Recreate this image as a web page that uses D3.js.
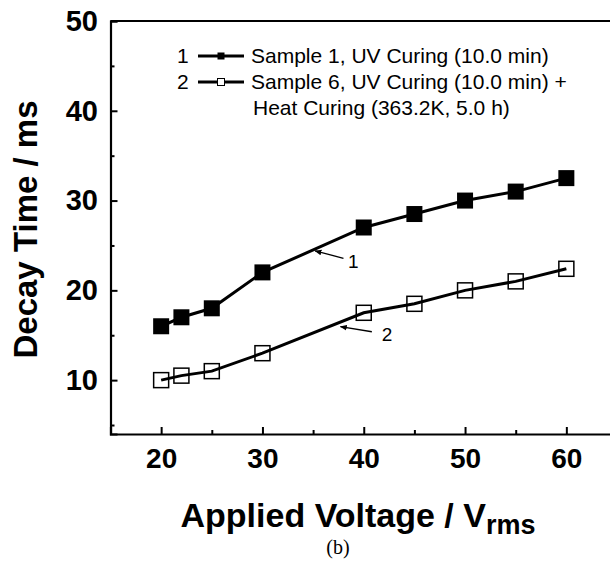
<!DOCTYPE html>
<html>
<head>
<meta charset="utf-8">
<script src="https://cdn.jsdelivr.net/npm/d3@7"></script>
<style>
  html, body { margin: 0; padding: 0; background: #fff; }
  svg { display: block; }
</style>
</head>
<body>
<svg id="chart" width="610" height="561"></svg>
<script>
// ---- Data ----
const voltages = [20, 22, 25, 30, 40, 45, 50, 55, 60];
const sample1 = [16, 17, 18, 22, 27, 28.5, 30, 31, 32.5];
const sample6 = [10, 10.5, 11, 13, 17.5, 18.5, 20, 21, 22.4];
const yTicks = [10, 20, 30, 40, 50];
const yMinorTicks = [5, 15, 25, 35, 45];
const xTicks = [20, 30, 40, 50, 60];
const xMinorTicks = [25, 35, 45, 55];
const legendLabels = ["Sample 1, UV Curing (10.0 min)", "Sample 6, UV Curing (10.0 min) +", "Heat Curing (363.2K, 5.0 h)"];
// annotation arrows in data units: [tailX, tailY, headX, headY, labelX, labelY, text]
const annotations = [
  [38.0, 23.57, 35.2, 24.4, 38.45, 22.5, "1"],
  [40.8, 15.39, 37.7, 15.95, 41.77, 14.36, "2"]
];

// ---- Scales ----
const svg = d3.select("#chart");
const x = d3.scaleLinear().domain([15, 65]).range([110.5, 617]);
const y = d3.scaleLinear().domain([4, 50]).range([434, 21]);

svg.append("defs").append("marker")
  .attr("id", "arrow").attr("viewBox", "0 0 10 10")
  .attr("refX", 9).attr("refY", 5)
  .attr("markerWidth", 7).attr("markerHeight", 7)
  .attr("markerUnits", "userSpaceOnUse")
  .attr("orient", "auto")
  .append("path").attr("d", "M0,1 L10,5 L0,9 Z").attr("fill", "#000");

// ---- Frame (top) ----
svg.append("line").attr("x1", x(15)).attr("x2", x(65)).attr("y1", y(50)).attr("y2", y(50))
  .attr("stroke", "#000").attr("stroke-width", 2.2);

// Y axis
const yAxis = d3.axisLeft(y).tickValues(yTicks).tickSize(-7).tickPadding(14).tickFormat(d3.format("d"));
const gy = svg.append("g").attr("transform", `translate(${x(15)},0)`).call(yAxis);
gy.select(".domain").attr("stroke-width", 2.2);
gy.selectAll(".tick line").attr("stroke-width", 2);
gy.selectAll("text").attr("font-family", "Liberation Sans, Arial, sans-serif")
  .attr("font-weight", "bold").attr("font-size", 29).attr("dx", "0.05em");
const yMinor = d3.axisLeft(y).tickValues(yMinorTicks).tickSize(-4).tickFormat("");
const gym = svg.append("g").attr("transform", `translate(${x(15)},0)`).call(yMinor);
gym.select(".domain").remove();
gym.selectAll(".tick line").attr("stroke-width", 2);

// X axis
const xAxis = d3.axisBottom(x).tickValues(xTicks).tickSize(-7).tickPadding(14).tickFormat(d3.format("d"));
const gx = svg.append("g").attr("transform", `translate(0,${y(4)})`).call(xAxis);
gx.select(".domain").attr("stroke-width", 2.2);
gx.selectAll(".tick line").attr("stroke-width", 2);
gx.selectAll("text").attr("font-family", "Liberation Sans, Arial, sans-serif")
  .attr("font-weight", "bold").attr("font-size", 28);
const xMinor = d3.axisBottom(x).tickValues(xMinorTicks).tickSize(-4).tickFormat("");
const gxm = svg.append("g").attr("transform", `translate(0,${y(4)})`).call(xMinor);
gxm.select(".domain").remove();
gxm.selectAll(".tick line").attr("stroke-width", 2);

// Axis titles
svg.append("text")
  .attr("transform", `translate(37,${(y(4) + y(50)) / 2 + 2}) rotate(-90)`)
  .attr("text-anchor", "middle")
  .attr("font-family", "Liberation Sans, Arial, sans-serif")
  .attr("font-weight", "bold").attr("font-size", 33)
  .text("Decay Time / ms");

const xt = svg.append("text")
  .attr("x", 358).attr("y", 527)
  .attr("text-anchor", "middle")
  .attr("font-family", "Liberation Sans, Arial, sans-serif")
  .attr("font-weight", "bold").attr("font-size", 34);
xt.append("tspan").text("Applied Voltage / V");
xt.append("tspan").attr("font-size", 27).attr("dy", 7).text("rms");

svg.append("text")
  .attr("x", 338).attr("y", 554)
  .attr("text-anchor", "middle")
  .attr("font-family", "Liberation Serif, Times New Roman, serif")
  .attr("font-size", 20)
  .text("(b)");

// ---- Series ----
const line = d3.line().x((d, i) => x(voltages[i])).y(d => y(d));
svg.append("path").datum(sample1).attr("d", line)
  .attr("fill", "none").attr("stroke", "#000").attr("stroke-width", 3);
svg.append("path").datum(sample6).attr("d", line)
  .attr("fill", "none").attr("stroke", "#000").attr("stroke-width", 3);

const s1 = 16, s2 = 15;
svg.append("g").selectAll("rect").data(sample1).join("rect")
  .attr("x", (d, i) => x(voltages[i]) - s1 / 2)
  .attr("y", d => y(d) - s1 / 2)
  .attr("width", s1).attr("height", s1)
  .attr("fill", "#000");
svg.append("g").selectAll("rect").data(sample6).join("rect")
  .attr("x", (d, i) => x(voltages[i]) - s2 / 2)
  .attr("y", d => y(d) - s2 / 2)
  .attr("width", s2).attr("height", s2)
  .attr("fill", "none").attr("stroke", "#000").attr("stroke-width", 1.5);

// ---- Annotations ----
annotations.forEach(a => {
  svg.append("line")
    .attr("x1", x(a[0])).attr("y1", y(a[1]))
    .attr("x2", x(a[2])).attr("y2", y(a[3]))
    .attr("stroke", "#000").attr("stroke-width", 1.3)
    .attr("marker-end", "url(#arrow)");
  svg.append("text")
    .attr("x", x(a[4])).attr("y", y(a[5]))
    .attr("font-family", "Liberation Sans, Arial, sans-serif")
    .attr("font-size", 19)
    .text(a[6]);
});

// ---- Legend ----
const lg = svg.append("g").attr("font-family", "Liberation Sans, Arial, sans-serif").attr("font-size", 21);
const rows = [63, 89, 115];
[0, 1].forEach(i => {
  lg.append("text").attr("x", 177).attr("y", rows[i]).text(String(i + 1));
  lg.append("line").attr("x1", 198).attr("x2", 244)
    .attr("y1", rows[i] - 7).attr("y2", rows[i] - 7)
    .attr("stroke", "#000").attr("stroke-width", 3);
  const r = lg.append("rect").attr("x", 221 - 3.5).attr("y", rows[i] - 7 - 3.5)
    .attr("width", 7).attr("height", 7);
  if (i === 0) r.attr("fill", "#000");
  else r.attr("fill", "#fff").attr("stroke", "#000").attr("stroke-width", 1);
});
legendLabels.forEach((t, i) => {
  lg.append("text").attr("x", i === 2 ? 253 : 251).attr("y", rows[i]).text(t);
});
</script>
</body>
</html>
